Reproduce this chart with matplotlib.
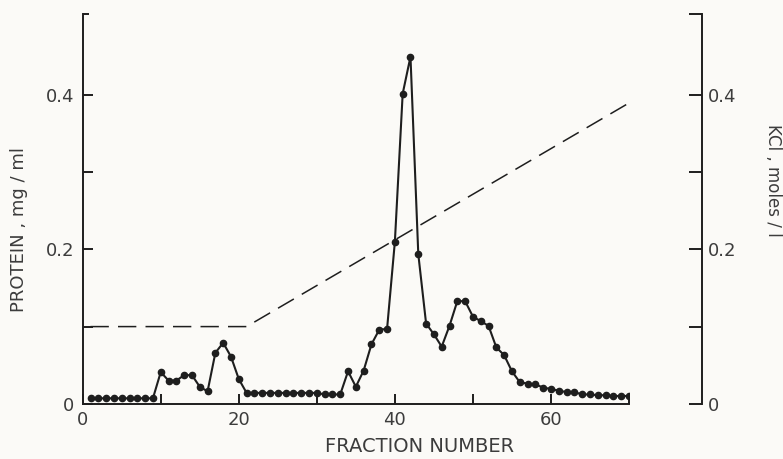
import matplotlib
matplotlib.use("Agg")
import matplotlib.pyplot as plt
import numpy as np

# ---- data ----
fractions = list(range(1, 71))
protein = [0.007] * 9 + [
    0.041, 0.030, 0.030, 0.037, 0.037, 0.022, 0.016, 0.066, 0.079, 0.061,  # 10-19
    0.032, 0.014, 0.014, 0.014, 0.014, 0.014, 0.014, 0.014, 0.014, 0.014,  # 20-29
    0.014, 0.012, 0.012, 0.012, 0.042, 0.022, 0.043, 0.077, 0.096, 0.097,  # 30-39
    0.210, 0.402, 0.450, 0.194, 0.104, 0.090, 0.074, 0.101, 0.133, 0.133,  # 40-49
    0.113, 0.107, 0.101, 0.073, 0.063, 0.042, 0.028, 0.026, 0.025, 0.021,  # 50-59
    0.019, 0.017, 0.015, 0.015, 0.012, 0.012, 0.011, 0.011, 0.010, 0.010,  # 60-69
    0.010,                                                                 # 70
]
kcl_fraction = [1, 21, 70]
kcl_moles = [0.10, 0.10, 0.39]

x_ticks = [0, 10, 20, 30, 40, 50, 60, 70]
x_ticklabels = ["0", "", "20", "", "40", "", "60", ""]
y_ticks = [0, 0.1, 0.2, 0.3, 0.4]
y_ticklabels = ["0", "", "0.2", "", "0.4"]

# ---- style ----
bg = "#fbfaf7"
ink = "#1e1e1e"
txt = "#3c3c3c"
plt.rcParams["font.family"] = ["DejaVu Sans"]

fig = plt.figure(figsize=(7.83, 4.59), dpi=100, facecolor=bg)
ax = fig.add_axes([82.7 / 783, 1 - 403.7 / 459, 546.3 / 783, (403.7 - 14.3) / 459])
ax.set_facecolor(bg)
ymax = 0.505
ax.set_xlim(0, 70)
ax.set_ylim(0, ymax)

ax.plot(fractions, protein, color=ink, lw=1.5, marker="o", ms=4.5,
        mfc=ink, mec=ink, zorder=3)
ax.plot(kcl_fraction, kcl_moles, color=ink, lw=1.1, dashes=(12, 6), zorder=2)

for s in ["top", "right"]:
    ax.spines[s].set_visible(False)
for s in ["left", "bottom"]:
    ax.spines[s].set_color(ink)
    ax.spines[s].set_linewidth(1.4)

ax.set_xticks(x_ticks)
ax.set_xticklabels(x_ticklabels)
ax.set_yticks(y_ticks)
ax.set_yticklabels(y_ticklabels)
ax.set_yticks([ymax], minor=True)
ax.tick_params(axis="x", direction="in", length=7.5, width=1.4, color=ink,
               labelsize=13, labelcolor=txt, pad=5)
ax.tick_params(axis="y", which="major", direction="in", length=7.5, width=1.4,
               color=ink, labelsize=13, labelcolor=txt, pad=6)
ax.tick_params(axis="y", which="minor", direction="in", length=4.5, width=1.4,
               color=ink)

# right KCl axis
ax2 = ax.twinx()
ax2.set_ylim(0, ymax)
for s in ["top", "left", "bottom"]:
    ax2.spines[s].set_visible(False)
ax2.spines["right"].set_position(("axes", (702 - 82.7) / 546.3))
ax2.spines["right"].set_color(ink)
ax2.spines["right"].set_linewidth(1.4)
ax2.set_yticks(y_ticks)
ax2.set_yticklabels(y_ticklabels)
ax2.set_yticks([ymax], minor=True)
ax2.tick_params(axis="y", which="major", direction="in", length=9.5, width=1.4,
                color=ink, labelsize=13, labelcolor=txt, pad=4)
ax2.tick_params(axis="y", which="minor", direction="in", length=9.5, width=1.4,
                color=ink)

fig.text(19 / 783, 1 - 230 / 459, "PROTEIN , mg / ml", rotation=90,
         ha="center", va="center", fontsize=13, color=txt)
fig.text(773 / 783, 1 - 180 / 459, "KCl , moles / l", rotation=270,
         ha="center", va="center", fontsize=12, color=txt)
fig.text(420 / 783, 1 - 446 / 459, "FRACTION NUMBER",
         ha="center", va="center", fontsize=14, color=txt)

fig.savefig("out.png", dpi=100, facecolor=bg)
